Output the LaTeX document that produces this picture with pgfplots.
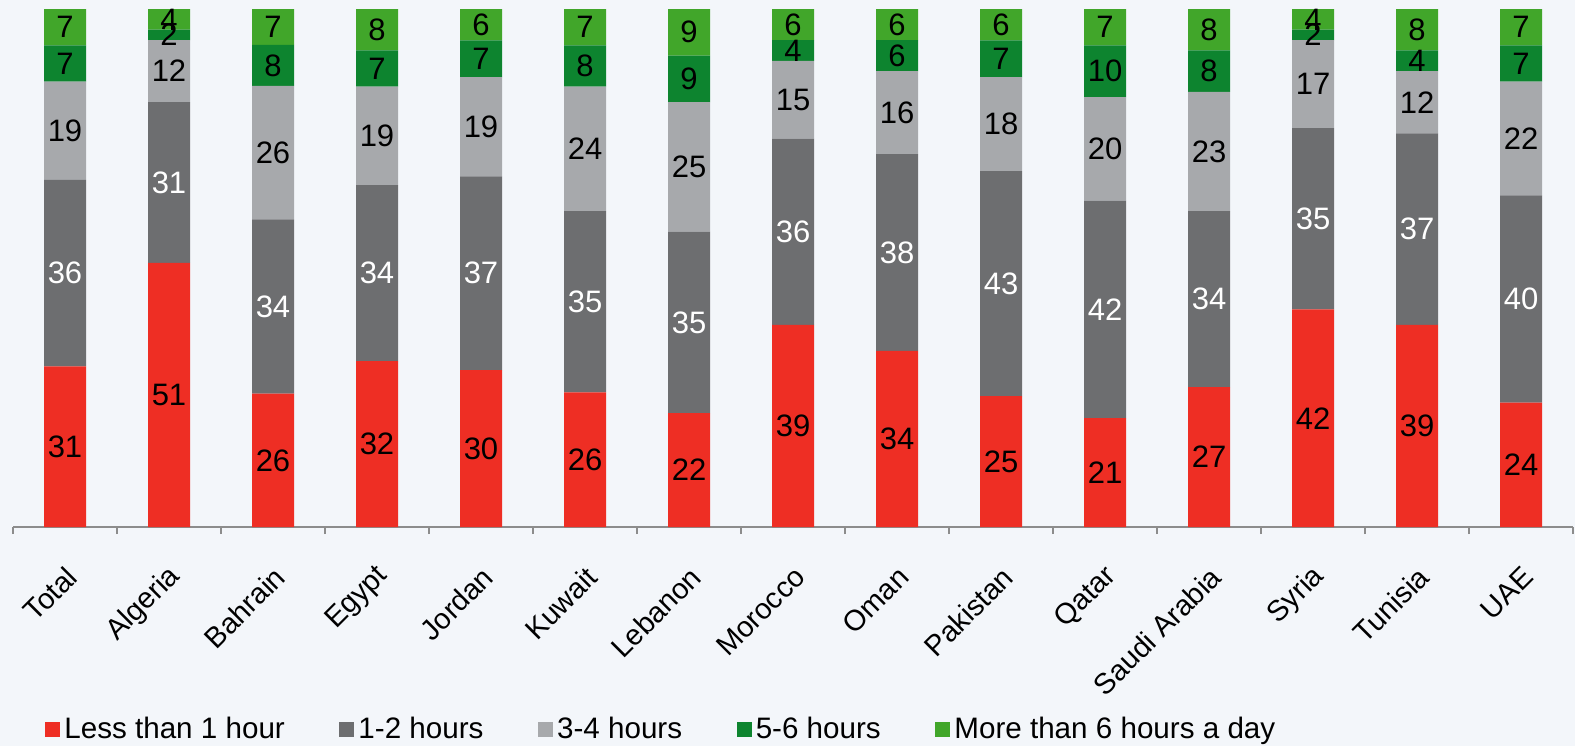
\documentclass[border=0pt]{standalone}
\usepackage{pgfplots}
\pgfplotsset{compat=1.18}
\usepackage{pgfplotstable}
\usepackage{fontspec}
\setmainfont{Liberation Sans}
\definecolor{cRed}{RGB}{238,46,36}
\definecolor{cDGray}{RGB}{109,110,112}
\definecolor{cLGray}{RGB}{167,169,172}
\definecolor{cDGreen}{RGB}{13,132,47}
\definecolor{cLGreen}{RGB}{65,166,42}
\definecolor{cBg}{RGB}{243,246,250}
\definecolor{cAxis}{RGB}{140,140,140}

\pgfplotstableread{
x a b c d e
0 31 36 19 7 7
1 51 31 12 2 4
2 26 34 26 8 7
3 32 34 19 7 8
4 30 37 19 7 6
5 26 35 24 8 7
6 22 35 25 9 9
7 39 36 15 4 6
8 34 38 16 6 6
9 25 43 18 7 6
10 21 42 20 10 7
11 27 34 23 8 8
12 42 35 17 2 4
13 39 37 12 4 8
14 24 40 22 7 7
}\data
% 100% stacked: each bar is scaled to its own total
\pgfplotstablecreatecol[create col/expr={\thisrow{a}+\thisrow{b}+\thisrow{c}+\thisrow{d}+\thisrow{e}}]{s}\data

\begin{document}
\begin{tikzpicture}
\fill[cBg] (-6.5pt,-109.5pt) rectangle (781pt,263.5pt);
\pgfplotsset{base/.style={
  at={(0pt,0pt)}, anchor=south west, scale only axis, width=780pt, height=259pt,
  xmin=-0.5, xmax=14.5, ymin=0, ymax=100, clip=false,
  /pgf/number format/assume math mode=true,
}}
\begin{axis}[base, ybar stacked, bar width=21pt,
  axis y line=none, axis x line*=bottom,
  axis line style={cAxis, line width=1pt},
  xtick={0,...,14},
  xticklabels={Total,Algeria,Bahrain,Egypt,Jordan,Kuwait,Lebanon,Morocco,Oman,Pakistan,Qatar,Saudi Arabia,Syria,Tunisia,UAE},
  major tick length=0pt,
  minor xtick={-0.5,0.5,...,14.5}, minor tick length=3.5pt, tick align=outside,
  minor tick style={cAxis, line width=1pt},
  xticklabel style={font=\fontsize{14.5}{17}\selectfont, inner sep=0pt, xshift=3.5pt, yshift=-22.5pt, rotate=45, anchor=east},
  legend image code/.code={\fill[#1] (0pt,-3.75pt) rectangle (7.5pt,3.75pt);},
  legend style={at={(axis description cs:0.0205,-0.390)}, anchor=west, legend columns=5,
    draw=none, fill=none, inner sep=0pt, font=\fontsize{14.8}{17}\selectfont,
    /tikz/every even column/.append style={column sep=25.3pt}},
]
\addplot[fill=cRed, draw=none] table[x=x, y expr=\thisrow{a}*100/\thisrow{s}]{\data};
\addplot[fill=cDGray, draw=none] table[x=x, y expr=\thisrow{b}*100/\thisrow{s}]{\data};
\addplot[fill=cLGray, draw=none] table[x=x, y expr=\thisrow{c}*100/\thisrow{s}]{\data};
\addplot[fill=cDGreen, draw=none] table[x=x, y expr=\thisrow{d}*100/\thisrow{s}]{\data};
\addplot[fill=cLGreen, draw=none] table[x=x, y expr=\thisrow{e}*100/\thisrow{s}]{\data};
\legend{Less than 1 hour,1-2 hours,3-4 hours,5-6 hours,More than 6 hours a day}
\end{axis}
\begin{axis}[base, hide axis,
  nodes near coords align={center},
  every node near coord/.append style={anchor=center, font=\fontsize{15.5}{18}\selectfont, inner sep=0pt},
]
\addplot[draw=none, nodes near coords, point meta=explicit, every node near coord/.append style={text=black}] table[x=x, y expr=(\thisrow{a}/2)*100/\thisrow{s}, meta=a]{\data};
\addplot[draw=none, nodes near coords, point meta=explicit, every node near coord/.append style={text=white}] table[x=x, y expr=(\thisrow{a}+\thisrow{b}/2)*100/\thisrow{s}, meta=b]{\data};
\addplot[draw=none, nodes near coords, point meta=explicit, every node near coord/.append style={text=black}] table[x=x, y expr=(\thisrow{a}+\thisrow{b}+\thisrow{c}/2)*100/\thisrow{s}, meta=c]{\data};
\addplot[draw=none, nodes near coords, point meta=explicit, every node near coord/.append style={text=black}] table[x=x, y expr=(\thisrow{a}+\thisrow{b}+\thisrow{c}+\thisrow{d}/2)*100/\thisrow{s}, meta=d]{\data};
\addplot[draw=none, nodes near coords, point meta=explicit, every node near coord/.append style={text=black}] table[x=x, y expr=(\thisrow{a}+\thisrow{b}+\thisrow{c}+\thisrow{d}+\thisrow{e}/2)*100/\thisrow{s}, meta=e]{\data};
\end{axis}
\end{tikzpicture}
\end{document}
